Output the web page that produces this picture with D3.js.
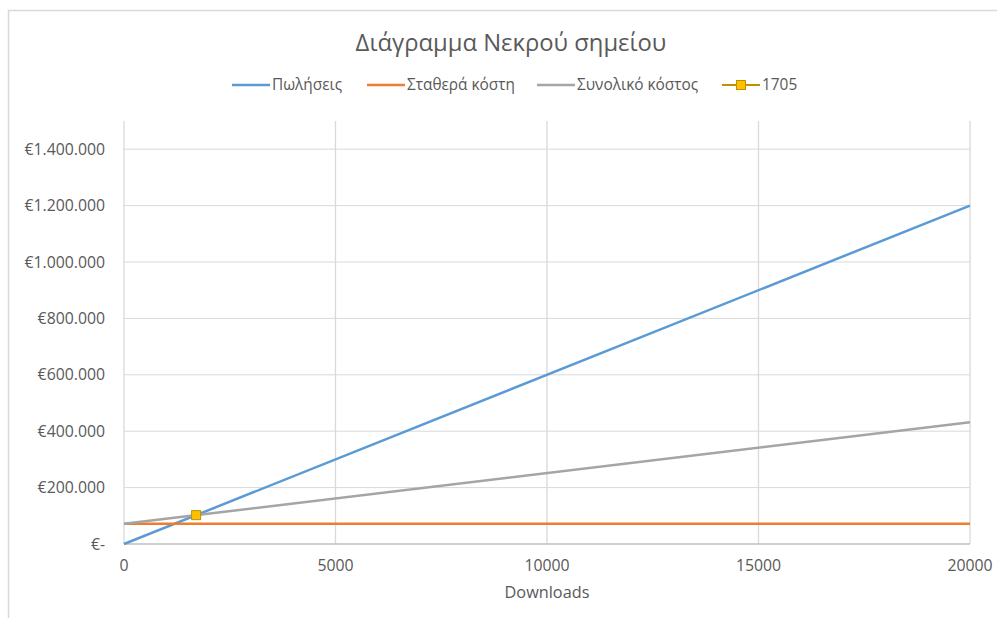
<!DOCTYPE html>
<html><head><meta charset="utf-8">
<script src="https://cdn.jsdelivr.net/npm/d3@7"></script>
<style>body{margin:0;background:#fff}svg{display:block}text{font-family:"Open Sans","Liberation Sans",sans-serif;fill:#595959}</style>
</head><body><div id="c"></div>
<script>
const downloads = [0, 20000];
const sales = [0, 1200000];
const fixedCost = [71610, 71610];
const totalCost = [71610, 431610];
const breakEvenX = [1705];
const breakEvenY = [102300];
const xTicks = [0, 5000, 10000, 15000, 20000];
const yTicks = [0, 200000, 400000, 600000, 800000, 1000000, 1200000, 1400000];
const seriesNames = ["Πωλήσεις", "Σταθερά κόστη", "Συνολικό κόστος", "1705"];
const colors = ["#5b9bd5", "#ed7d31", "#a5a5a5", "#ffc000"];

const W = 997, H = 618;
const svg = d3.select("#c").append("svg").attr("width", W).attr("height", H);
svg.append("rect").attr("x", 8.5).attr("y", 10.5).attr("width", 1000).attr("height", 700)
  .attr("fill", "#fff").attr("stroke", "#d9d9d9").attr("stroke-width", 1.5);

const x = d3.scaleLinear().domain([0, 20000]).range([124, 970]);
const y = d3.scaleLinear().domain([0, 1500000]).range([544, 121]);

const g = svg.append("g");
g.selectAll(".hg").data(yTicks.slice(1)).join("line")
  .attr("x1", x(0)).attr("x2", x(20000)).attr("y1", d => y(d)).attr("y2", d => y(d))
  .attr("stroke", "#d9d9d9").attr("stroke-width", 1);
g.selectAll(".vg").data(xTicks).join("line")
  .attr("x1", d => x(d)).attr("x2", d => x(d)).attr("y1", y(0)).attr("y2", 121)
  .attr("stroke", "#d9d9d9").attr("stroke-width", 1.3);
g.append("line").attr("x1", x(0)).attr("x2", x(20000)).attr("y1", y(0)).attr("y2", y(0))
  .attr("stroke", "#bfbfbf").attr("stroke-width", 1.3);

const fmt = d => d === 0 ? "€-" : "€" + d3.format(",")(d).replace(/,/g, ".");
g.selectAll(".yl").data(yTicks).join("text")
  .attr("x", 105).attr("y", d => y(d)).attr("dy", "0.35em").attr("text-anchor", "end")
  .attr("font-size", 15.8).text(fmt);
g.selectAll(".xl").data(xTicks).join("text")
  .attr("x", d => x(d)).attr("y", 571).attr("text-anchor", "middle")
  .attr("font-size", 15.8).text(d => d);
svg.append("text").attr("x", 547).attr("y", 598).attr("text-anchor", "middle")
  .attr("font-size", 16.3).text("Downloads");
svg.append("text").attr("x", 511).attr("y", 51).attr("text-anchor", "middle")
  .attr("font-size", 23.8).text("Διάγραμμα Νεκρού σημείου");

const line = d3.line().x(d => x(d[0])).y(d => y(d[1]));
const series = [sales, fixedCost, totalCost];
series.forEach((s, i) => {
  g.append("path").datum(downloads.map((d, j) => [d, s[j]])).attr("d", line)
    .attr("fill", "none").attr("stroke", colors[i]).attr("stroke-width", 2.5);
});
g.selectAll(".be").data(breakEvenX).join("rect")
  .attr("x", (d) => x(d) - 4.5).attr("y", (d, i) => y(breakEvenY[i]) - 4.5)
  .attr("width", 9).attr("height", 9).attr("fill", colors[3]).attr("stroke", "#bf9000").attr("stroke-width", 1);

const legX = [232, 367, 537, 722];
const leg = svg.append("g");
seriesNames.forEach((n, i) => {
  leg.append("line").attr("x1", legX[i]).attr("x2", legX[i] + 38).attr("y1", 85).attr("y2", 85)
    .attr("stroke", i === 3 ? "#bf9000" : colors[i]).attr("stroke-width", i === 3 ? 2 : 2.5);
  if (i === 3) leg.append("rect").attr("x", legX[i] + 14.5).attr("y", 80.5).attr("width", 9).attr("height", 9)
    .attr("fill", colors[3]).attr("stroke", "#bf9000");
  leg.append("text").attr("x", legX[i] + 40).attr("y", 85).attr("dy", "0.35em")
    .attr("font-size", 15.4).text(n);
});
</script></body></html>
